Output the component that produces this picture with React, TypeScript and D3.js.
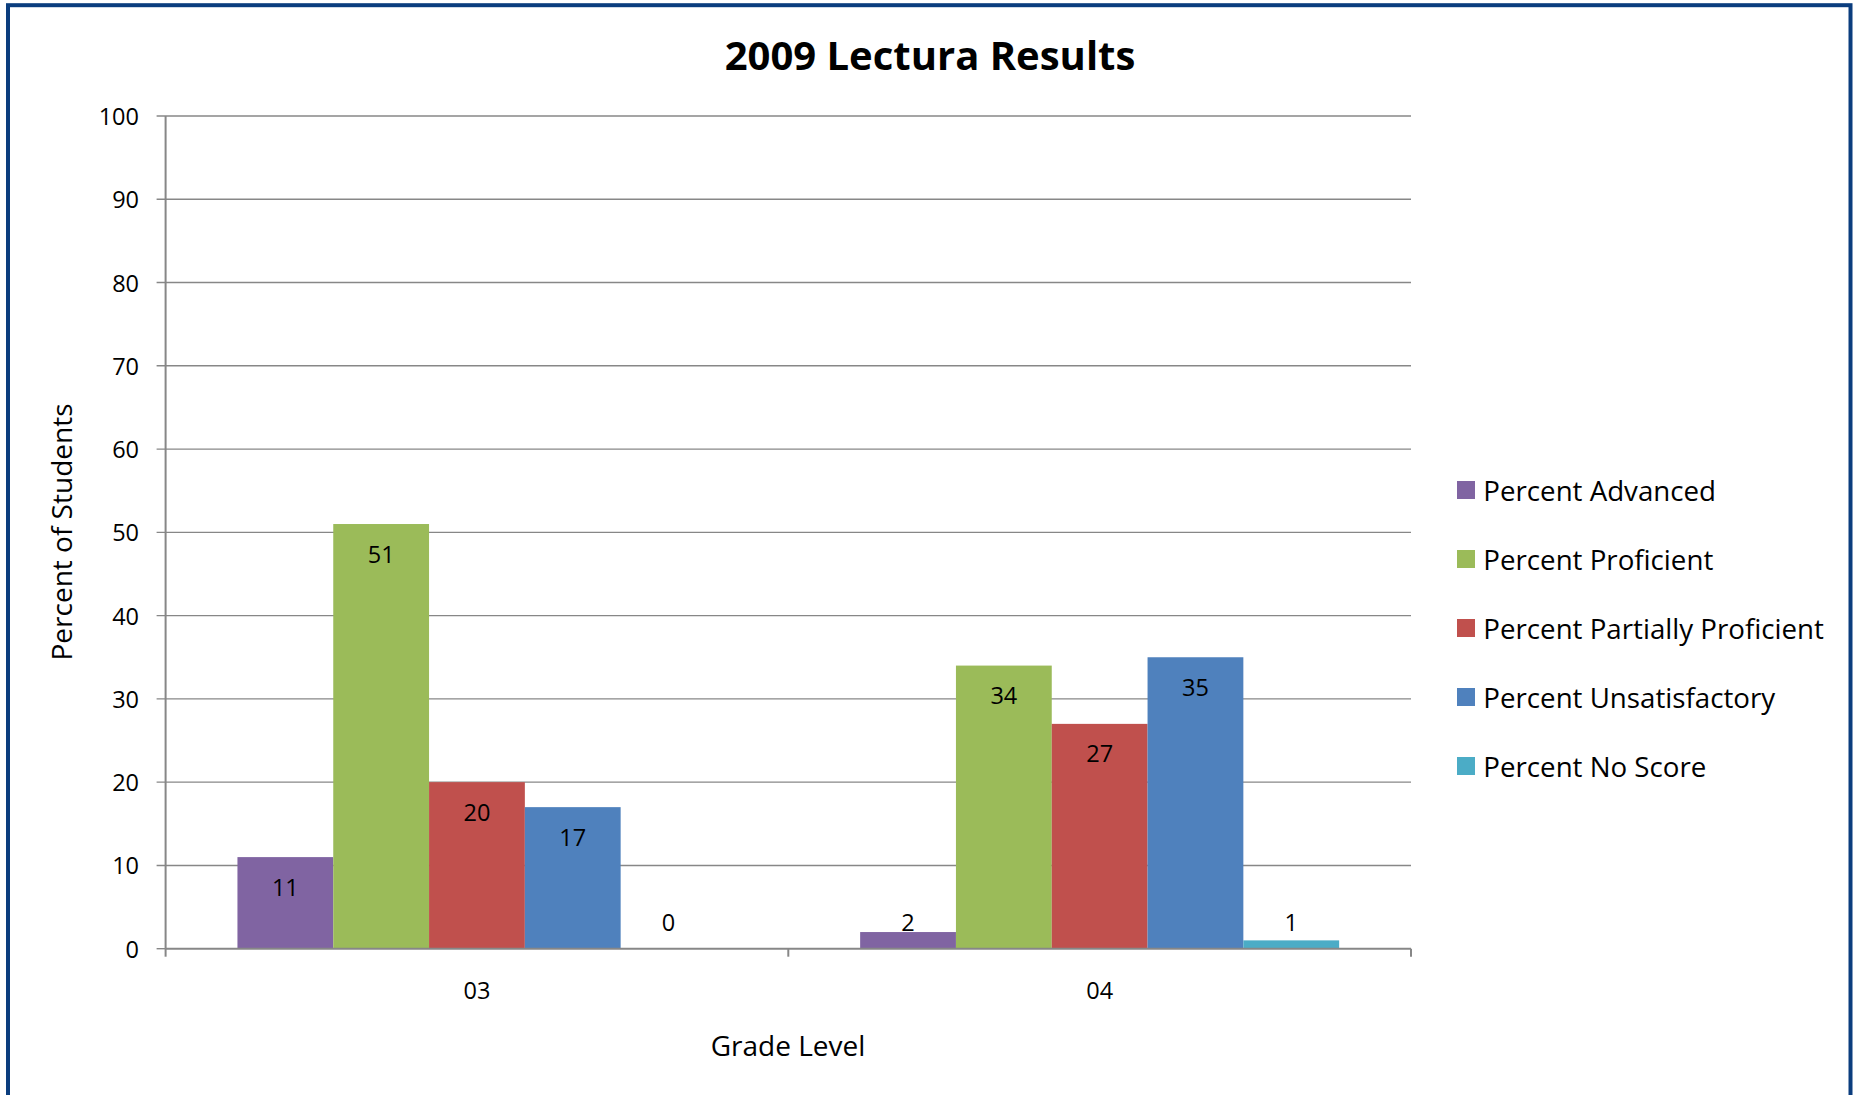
import React from "react";
import * as d3 from "d3";

const grades = ["03", "04"];
const seriesNames = [
  "Percent Advanced",
  "Percent Proficient",
  "Percent Partially Proficient",
  "Percent Unsatisfactory",
  "Percent No Score",
];
const seriesColors = ["#8064A2", "#9BBB59", "#C0504D", "#4F81BD", "#4BACC6"];
const advanced = [11, 2];
const proficient = [51, 34];
const partiallyProficient = [20, 27];
const unsatisfactory = [17, 35];
const noScore = [0, 1];
const yTicks = [0, 10, 20, 30, 40, 50, 60, 70, 80, 90, 100];

const seriesValues = [advanced, proficient, partiallyProficient, unsatisfactory, noScore];

const W = 1857;
const H = 1095;
const plotLeft = 165.6;
const plotRight = 1411;
const plotTop = 116;
const plotBottom = 948.7;
const FONT = "'Open Sans', 'Noto Sans', sans-serif";

export default function App() {
  const x0 = d3.scaleBand<string>().domain(grades).range([plotLeft, plotRight]).padding(0);
  const x1 = d3
    .scaleBand<string>()
    .domain(seriesNames)
    .range([0, x0.bandwidth()])
    .paddingInner(0)
    .paddingOuter(0.75);
  const y = d3.scaleLinear().domain([0, 100]).range([plotBottom, plotTop]);

  const gridColor = "#878787";
  const xTickPositions = [plotLeft, plotLeft + x0.bandwidth(), plotRight];
  const tickFont = 23.5;

  return (
    <svg
      width={W}
      height={H}
      style={{ position: "absolute", left: 0, top: 0, background: "#fff" }}
      fontFamily={FONT}
    >
      <rect x={0} y={0} width={W} height={H} fill="#fff" />
      {/* outer border */}
      <rect x={8} y={5.2} width={1842.5} height={1300} fill="none" stroke="#0B3D7E" strokeWidth={4} />

      {/* title */}
      <text x={930} y={69.5} textAnchor="middle" fontSize={40} fontWeight={700} fill="#000">
        2009 Lectura Results
      </text>

      {/* gridlines */}
      {yTicks.map((t) => (
        <line
          key={"g" + t}
          x1={plotLeft - 9}
          x2={t === 0 ? plotLeft : plotRight}
          y1={y(t)}
          y2={y(t)}
          stroke={gridColor}
          strokeWidth={1.4}
        />
      ))}
      {/* y tick labels */}
      {yTicks.map((t) => (
        <text
          key={"yl" + t}
          x={139}
          y={y(t)}
          textAnchor="end"
          dominantBaseline="central"
          fontSize={tickFont}
          fill="#000"
        >
          {t}
        </text>
      ))}

      {/* bars */}
      {grades.map((g, gi) =>
        seriesNames.map((s, si) => {
          const v = seriesValues[si][gi];
          const bx = (x0(g) as number) + (x1(s) as number);
          const by = y(v);
          return (
            <rect
              key={g + s}
              x={bx}
              y={by}
              width={x1.bandwidth()}
              height={plotBottom - by}
              fill={seriesColors[si]}
            />
          );
        })
      )}

      {/* axes */}
      <line x1={plotLeft} x2={plotLeft} y1={plotTop} y2={plotBottom} stroke={gridColor} strokeWidth={2} />
      <line x1={plotLeft} x2={plotRight} y1={plotBottom} y2={plotBottom} stroke={gridColor} strokeWidth={2} />
      {xTickPositions.map((xp, i) => (
        <line key={"xt" + i} x1={xp} x2={xp} y1={plotBottom} y2={plotBottom + 8} stroke={gridColor} strokeWidth={2} />
      ))}

      {/* data labels */}
      {grades.map((g, gi) =>
        seriesNames.map((s, si) => {
          const v = seriesValues[si][gi];
          const cx = (x0(g) as number) + (x1(s) as number) + x1.bandwidth() / 2;
          const cy = Math.min(y(v) + 29.5, plotBottom - 27);
          return (
            <text
              key={"dl" + g + s}
              x={cx}
              y={cy}
              textAnchor="middle"
              dominantBaseline="central"
              fontSize={tickFont}
              fill="#000"
            >
              {v}
            </text>
          );
        })
      )}

      {/* x tick labels */}
      {grades.map((g) => (
        <text
          key={"xl" + g}
          x={(x0(g) as number) + x0.bandwidth() / 2}
          y={999}
          textAnchor="middle"
          fontSize={tickFont}
          fill="#000"
        >
          {g}
        </text>
      ))}

      {/* axis titles */}
      <text x={788} y={1056} textAnchor="middle" fontSize={28} fill="#000">
        Grade Level
      </text>
      <text
        transform={`translate(72,532) rotate(-90)`}
        textAnchor="middle"
        fontSize={28}
        fill="#000"
      >
        Percent of Students
      </text>

      {/* legend */}
      {seriesNames.map((s, i) => {
        const cy = 490 + i * 69;
        return (
          <g key={"lg" + s}>
            <rect x={1457} y={cy - 9} width={18} height={18} fill={seriesColors[i]} />
            <text x={1483.3} y={cy} dominantBaseline="central" fontSize={27.7} fill="#000">
              {s}
            </text>
          </g>
        );
      })}
    </svg>
  );
}
